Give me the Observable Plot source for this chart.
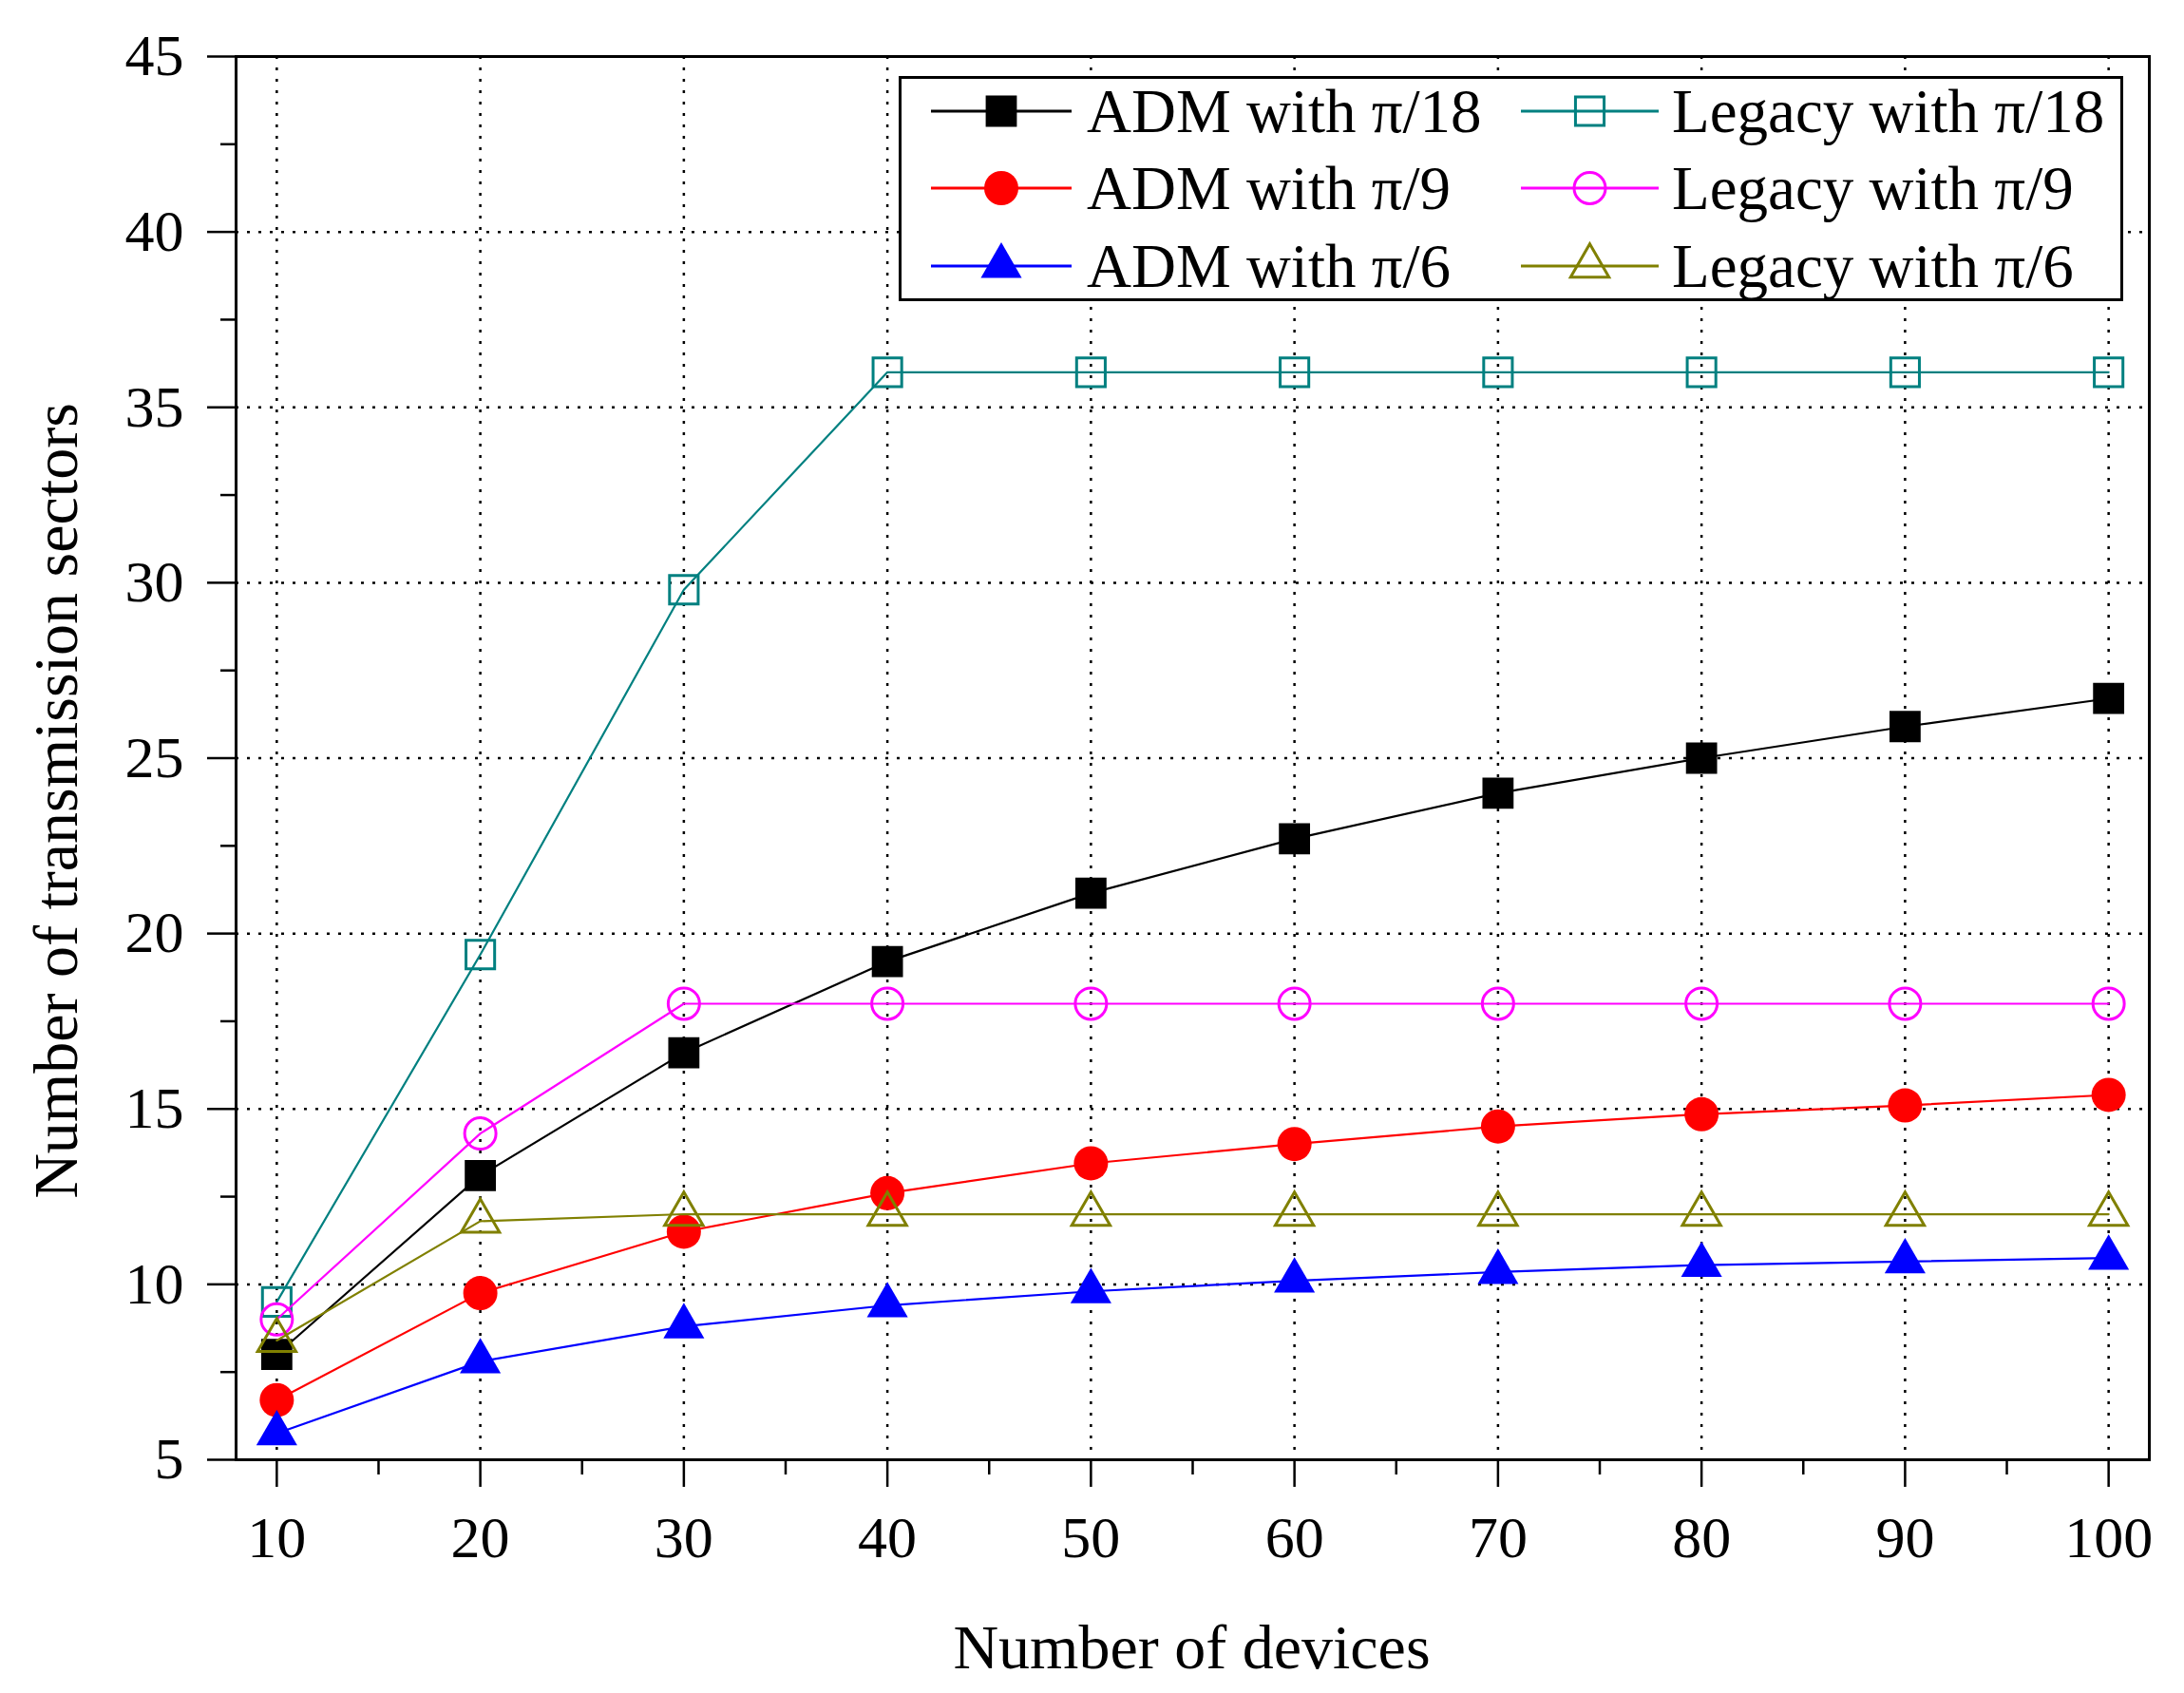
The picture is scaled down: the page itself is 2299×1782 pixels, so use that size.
<!DOCTYPE html>
<html>
<head>
<meta charset="utf-8">
<script src="https://cdn.jsdelivr.net/npm/d3@7"></script>
<script src="https://cdn.jsdelivr.net/npm/@observablehq/plot@0.6"></script>
<style>
  html, body { margin: 0; padding: 0; background: white; }
  #chart { position: relative; width: 2299px; height: 1782px; }
  #legend { position: absolute; left: 946px; top: 80px; }
</style>
</head>
<body>
<div id="chart"></div>
<script>
// valores
const devices = [10, 20, 30, 40, 50, 60, 70, 80, 90, 100];
const admPi18 = [8.0, 13.1, 16.6, 19.2, 21.15, 22.7, 24.0, 25.0, 25.9, 26.7];
const admPi9 = [6.7, 9.75, 11.5, 12.6, 13.45, 14.0, 14.5, 14.85, 15.1, 15.4];
const admPi6 = [5.75, 7.8, 8.8, 9.4, 9.8, 10.1, 10.35, 10.55, 10.65, 10.75];
const legacyPi18 = [9.5, 19.4, 29.8, 36, 36, 36, 36, 36, 36, 36];
const legacyPi9 = [9.0, 14.3, 18, 18, 18, 18, 18, 18, 18, 18];
const legacyPi6 = [8.4, 11.8, 12, 12, 12, 12, 12, 12, 12, 12];

const seriesNames = ["ADM with π/18", "ADM with π/9", "ADM with π/6",
                     "Legacy with π/18", "Legacy with π/9", "Legacy with π/6"];
const seriesValues = [admPi18, admPi9, admPi6, legacyPi18, legacyPi9, legacyPi6];
const seriesColors = ["#000000", "#ff0000", "#0000ff", "#008080", "#ff00ff", "#808000"];
const seriesSymbols = ["square", "circle", "triangle", "square", "circle", "triangle"];
const seriesFilled = [true, true, true, false, false, false];

const xTicks = [10, 20, 30, 40, 50, 60, 70, 80, 90, 100];
const xMinor = [15, 25, 35, 45, 55, 65, 75, 85, 95];
const yTicks = [5, 10, 15, 20, 25, 30, 35, 40, 45];
const yMinor = [7.5, 12.5, 17.5, 22.5, 27.5, 32.5, 37.5, 42.5];

const xTitle = "Number of devices";
const yTitle = "Number of transmission sectors";

const font = "'Liberation Serif', 'Times New Roman', serif";

// tamano de los simbolos (relleno / hueco)
function symbolR(s) {
  const filled = seriesFilled[s];
  if (seriesSymbols[s] === "triangle") return filled ? 16 : 15;
  if (seriesSymbols[s] === "square") return filled ? 18.5 : 17;
  return filled ? 18 : 16.5;
}

const gridStyle = {stroke: "black", strokeOpacity: 1, strokeWidth: 2.5, strokeDasharray: "3,9"};

let marks = [
  Plot.gridX(xTicks, gridStyle),
  Plot.gridY(yTicks.filter(v => v > 5 && v < 45), gridStyle),
  Plot.axisY(yMinor, {tickSize: 16, fill: "none", strokeWidth: 2.5, label: null}),
  Plot.axisY(yTicks, {tickSize: 30, tickPadding: 25, strokeWidth: 2.5, fontSize: 62, label: null}),
  Plot.axisX(xMinor, {tickSize: 16, fill: "none", strokeWidth: 2.5, label: null}),
  Plot.axisX(xTicks, {tickSize: 29, tickPadding: 29, strokeWidth: 2.5, fontSize: 62, label: null}),
  Plot.frame({stroke: "black", strokeWidth: 3})
];

// ADM primero, Legacy encima
seriesNames.forEach((name, s) => {
  const pts = devices.map((d, i) => ({devices: d, value: seriesValues[s][i]}));
  marks.push(Plot.line(pts, {x: "devices", y: "value", stroke: seriesColors[s], strokeWidth: 2.2}));
  marks.push(Plot.dot(pts, {
    x: "devices", y: "value",
    symbol: seriesSymbols[s],
    r: symbolR(s),
    fill: seriesFilled[s] ? seriesColors[s] : "none",
    stroke: seriesFilled[s] ? "none" : seriesColors[s],
    strokeWidth: 3
  }));
});

marks.push(Plot.text([xTitle], {text: d => d, frameAnchor: "bottom", textAnchor: "middle", dx: -1, dy: 198, fontSize: 66, lineAnchor: "middle"}));
marks.push(Plot.text([yTitle], {text: d => d, frameAnchor: "left", textAnchor: "middle", rotate: -90, dx: -189, dy: 45, fontSize: 66, lineAnchor: "middle"}));

let chart = Plot.plot({
  width: 2299,
  height: 1782,
  marginLeft: 248,
  marginRight: 37,
  marginTop: 59,
  marginBottom: 246,
  style: {fontFamily: font, fontSize: "62px", background: "white", color: "black", maxWidth: "none"},
  x: {domain: [8, 102], label: null},
  y: {domain: [5, 45], label: null},
  marks: marks
});

d3.select("#chart").append(() => chart);

// leyenda dentro del grafico
const legendW = 1289, legendH = 237;
const rowY = [37, 118, 200];
const colLine = [[34, 182], [655, 800]];
const colText = [198, 814];

const legend = d3.select("#chart").append("svg")
  .attr("id", "legend")
  .attr("width", legendW)
  .attr("height", legendH)
  .style("font-family", font)
  .style("font-size", "65px");

legend.append("rect")
  .attr("x", 1.5).attr("y", 1.5)
  .attr("width", legendW - 3).attr("height", legendH - 3)
  .attr("fill", "white").attr("stroke", "black").attr("stroke-width", 3);

const d3Symbols = {square: d3.symbolSquare, circle: d3.symbolCircle, triangle: d3.symbolTriangle};

seriesNames.forEach((name, s) => {
  const col = s < 3 ? 0 : 1;
  const y = rowY[s % 3];
  const [x0, x1] = colLine[col];
  const g = legend.append("g");
  g.append("line")
    .attr("x1", x0).attr("x2", x1).attr("y1", y).attr("y2", y)
    .attr("stroke", seriesColors[s]).attr("stroke-width", 3);
  const r = symbolR(s);
  g.append("path")
    .attr("transform", `translate(${(x0 + x1) / 2},${y})`)
    .attr("d", d3.symbol(d3Symbols[seriesSymbols[s]], r * r * Math.PI)())
    .attr("fill", seriesFilled[s] ? seriesColors[s] : "none")
    .attr("stroke", seriesFilled[s] ? "none" : seriesColors[s])
    .attr("stroke-width", 3);
  g.append("text")
    .attr("x", colText[col]).attr("y", y).attr("dy", "0.34em")
    .attr("fill", "black")
    .text(name);
});
</script>
</body>
</html>
